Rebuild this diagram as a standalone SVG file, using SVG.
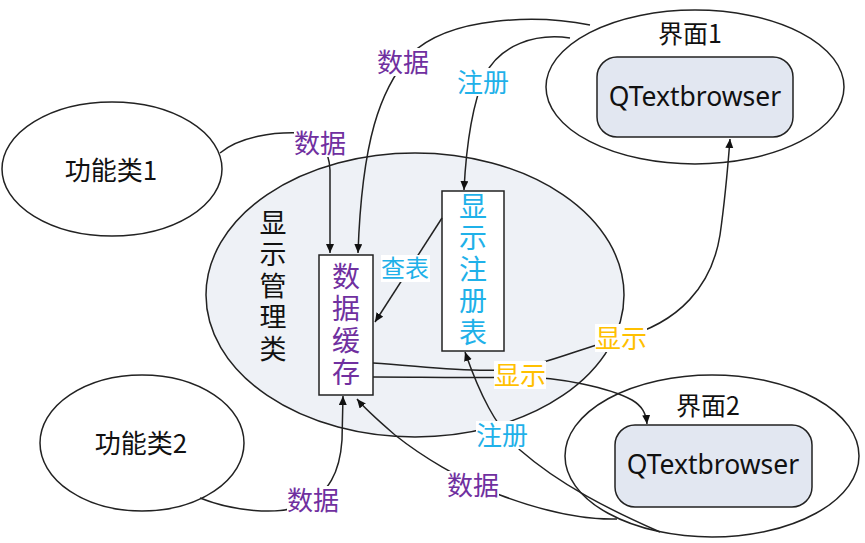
<svg xmlns="http://www.w3.org/2000/svg" width="865" height="543" viewBox="0 0 865 543">
<style>
  .node { stroke: #222; stroke-width: 1.5; }
  .plain { fill: #fff; }
  .blue { fill: #eef1f6; }
  .inner { fill: #e2e7f1; }
  .conn { fill: none; stroke: #222; stroke-width: 1.5; }
  .t { font-family: "Noto Sans CJK SC", "Noto Sans", sans-serif; text-anchor: middle; }
  .v { font-family: "Noto Sans CJK SC", sans-serif; writing-mode: vertical-rl; text-anchor: start; }
  .lat { font-family: "Noto Sans", "Noto Sans CJK SC", sans-serif; text-anchor: middle; }
  .purple { fill: #7030a0; }
  .cyan { fill: #1fb1e9; }
  .orange { fill: #ffc000; }
  .black { fill: #111; }
  .bg { fill: #fff; }
</style>
<defs>
  <marker id="arr" markerUnits="userSpaceOnUse" markerWidth="10" markerHeight="9" refX="9" refY="4" orient="auto">
    <path d="M0,0 L9,4 L0,8 z" fill="#111"/>
  </marker>
</defs>

<g id="func1">
  <ellipse class="node plain" cx="112" cy="169" rx="110" ry="67"/>
  <text class="t black" x="111" y="180" font-size="26">功能类1</text>
</g>
<g id="func2">
  <ellipse class="node plain" cx="142" cy="443" rx="102" ry="68"/>
  <text class="t black" x="141" y="453" font-size="26">功能类2</text>
</g>
<g id="ui1">
  <ellipse class="node plain" cx="695" cy="87" rx="149" ry="77"/>
  <text class="t black" x="690" y="43" font-size="25">界面1</text>
  <rect class="node inner" x="597" y="57" width="196" height="80" rx="20"/>
  <text class="lat black" x="695" y="106" font-size="26.5">QTextbrowser</text>
</g>
<g id="ui2">
  <ellipse class="node plain" cx="712" cy="456" rx="147" ry="81"/>
  <text class="t black" x="708" y="415" font-size="25">界面2</text>
  <rect class="node inner" x="615" y="425" width="197" height="82" rx="20"/>
  <text class="lat black" x="713" y="474" font-size="26.5">QTextbrowser</text>
</g>
<g id="manager">
  <ellipse class="node blue" cx="415" cy="295" rx="209" ry="142"/>
  <text class="v black" x="273" y="209" font-size="27" letter-spacing="4.5">显示管理类</text>
</g>
<g id="cache">
  <rect class="node plain" x="319" y="255" width="54" height="140"/>
  <text class="v purple" x="346" y="262" font-size="28" letter-spacing="4">数据缓存</text>
</g>
<g id="registry">
  <rect class="node plain" x="442" y="191" width="62" height="160"/>
  <text class="v cyan" x="473" y="192" font-size="28" letter-spacing="3.5">显示注册表</text>
</g>

<g id="connectors">
  <path class="conn" marker-end="url(#arr)" d="M220,153 C240,136 275,132 300,133 C320,135 329,150 330,170 L330,253"/>
  <path class="conn" marker-end="url(#arr)" d="M590,25 C540,15 450,15 410,55 C380,90 362,140 358,253"/>
  <path class="conn" marker-end="url(#arr)" d="M570,38 C535,33 500,45 485,75 C472,105 466,150 464,190"/>
  <path class="conn" marker-end="url(#arr)" d="M442,218 L375,322"/>
  <path class="conn" marker-end="url(#arr)" d="M373,363 C420,366 460,372 500,370 C540,368 580,348 621,338 C680,323 712,285 720,235 C725,200 728,165 730,139"/>
  <path class="conn" marker-end="url(#arr)" d="M373,377 C420,377 470,378 520,377 C560,377 610,388 632,400 C642,406 646,413 647,424"/>
  <path class="conn" marker-end="url(#arr)" d="M660,532 C610,510 560,485 520,450 C495,425 480,395 465,352"/>
  <path class="conn" marker-end="url(#arr)" d="M617,519 C580,520 540,510 500,495 C460,480 420,455 395,435 C380,422 366,410 357,399"/>
  <path class="conn" marker-end="url(#arr)" d="M200,498 C230,510 275,516 300,506 C330,495 340,470 342,440 L343,396"/>

  <rect class="bg" x="377" y="48" width="52" height="28"/>
  <text class="t purple" x="403" y="72" font-size="26">数据</text>
  <rect class="bg" x="457" y="68" width="52" height="28"/>
  <text class="t cyan" x="483" y="92" font-size="26">注册</text>
  <rect class="bg" x="294" y="129" width="52" height="28"/>
  <text class="t purple" x="320" y="153" font-size="26">数据</text>
  <rect class="bg" x="381" y="255" width="49" height="27"/>
  <text class="t cyan" x="405" y="277" font-size="24">查表</text>
  <rect class="bg" x="595" y="324" width="52" height="28"/>
  <text class="t orange" x="621" y="348" font-size="26">显示</text>
  <rect class="bg" x="494" y="361" width="52" height="28"/>
  <text class="t orange" x="520" y="385" font-size="26">显示</text>
  <rect class="bg" x="476" y="421" width="52" height="28"/>
  <text class="t cyan" x="502" y="445" font-size="26">注册</text>
  <rect class="bg" x="287" y="486" width="52" height="28"/>
  <text class="t purple" x="313" y="510" font-size="26">数据</text>
  <rect class="bg" x="447" y="471" width="52" height="28"/>
  <text class="t purple" x="473" y="495" font-size="26">数据</text>
</g>
</svg>
